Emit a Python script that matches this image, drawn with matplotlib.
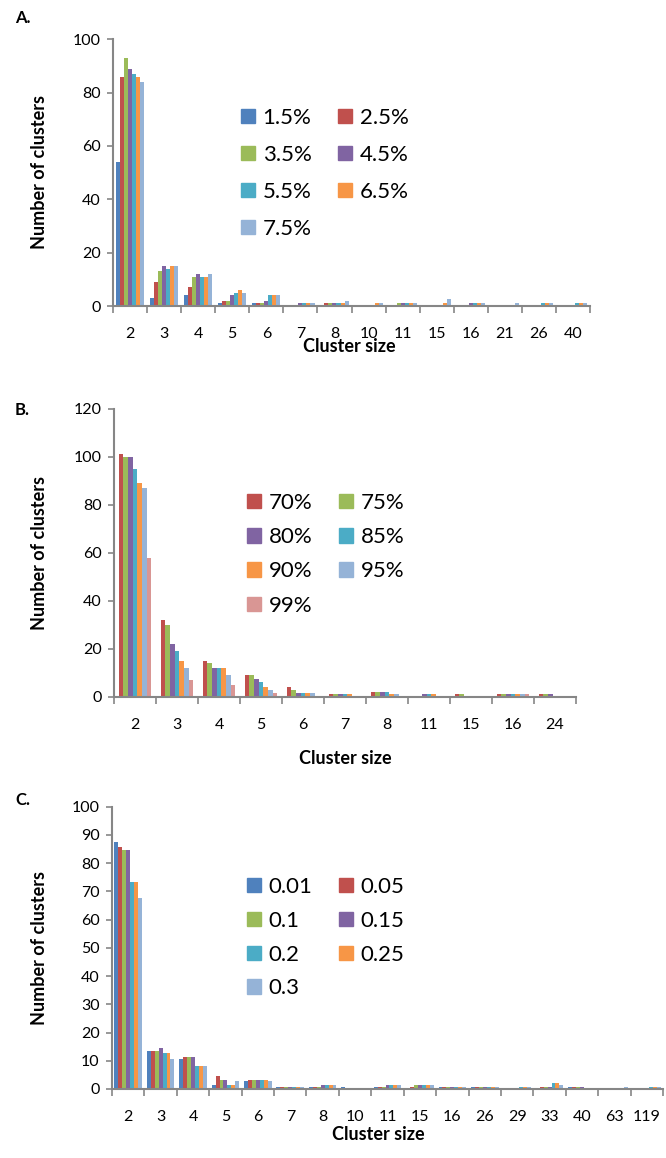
import numpy as np
import matplotlib
matplotlib.use('Agg')
import matplotlib.pyplot as plt
from matplotlib.patches import Patch

plt.rcParams['font.family'] = ['Lato', 'DejaVu Sans']

W, H = 666, 1158

# ── Colores (paleta Office) ───────────────────────────────────────────────
AZUL    = '#4F81BD'
ROJO    = '#C0504D'
VERDE   = '#9BBB59'
MORADO  = '#8064A2'
TURQ    = '#4BACC6'
NARANJA = '#F79646'
CELESTE = '#95B3D7'
ROSA    = '#D99694'
GRIS    = '#868686'

# ── Panel A: umbral en % ─────────────────────────────────────────────────
cats_a = ['2', '3', '4', '5', '6', '7', '8', '10', '11', '15', '16', '21', '26', '40']
series_a = ['1.5%', '2.5%', '3.5%', '4.5%', '5.5%', '6.5%', '7.5%']
colores_a = [AZUL, ROJO, VERDE, MORADO, TURQ, NARANJA, CELESTE]
# una fila por tamaño de cluster, una columna por serie
vals_a = [
    [54, 86, 93, 89, 87, 86, 84],
    [3, 9, 13, 15, 14, 15, 15],
    [4, 7, 11, 12, 11, 11, 12],
    [1, 2, 2, 4, 5, 6, 5],
    [1, 1, 1, 2, 4, 4, 4],
    [0, 0, 0, 1, 1, 1, 1],
    [0, 1, 1, 1, 1, 1, 2],
    [0, 0, 0, 0, 0, 1, 1],
    [0, 0, 1, 1, 1, 1, 1],
    [0, 0, 0, 0, 0, 1, 2.5],
    [0, 0, 0, 1, 1, 1, 1],
    [0, 0, 0, 0, 0, 0, 1],
    [0, 0, 0, 0, 1, 1, 1],
    [0, 0, 0, 0, 1, 1, 1],
]

# ── Panel B: identidad ───────────────────────────────────────────────────
cats_b = ['2', '3', '4', '5', '6', '7', '8', '11', '15', '16', '24']
series_b = ['70%', '75%', '80%', '85%', '90%', '95%', '99%']
colores_b = [ROJO, VERDE, MORADO, TURQ, NARANJA, CELESTE, ROSA]
vals_b = [
    [101, 100, 100, 95, 89, 87, 58],
    [32, 30, 22, 19, 15, 12, 7],
    [15, 14, 12, 12, 12, 9, 5],
    [9, 9, 7.5, 6, 4, 3, 1.5],
    [4, 3, 1.6, 1.6, 1.6, 1.6, 0],
    [1, 1, 1, 1, 1, 0, 0],
    [2, 2, 2, 2, 1, 1, 0],
    [0, 0, 1, 1, 1, 0, 0],
    [1, 1, 0, 0, 0, 0, 0],
    [1, 1, 1, 1, 1, 1, 1],
    [1, 1, 1, 0, 0, 0, 0],
]

# ── Panel C: parámetro ───────────────────────────────────────────────────
cats_c = ['2', '3', '4', '5', '6', '7', '8', '10', '11', '15', '16', '26',
          '29', '33', '40', '63', '119']
series_c = ['0.01', '0.05', '0.1', '0.15', '0.2', '0.25', '0.3']
colores_c = [AZUL, ROJO, VERDE, MORADO, TURQ, NARANJA, CELESTE]
vals_c = [
    [87.6, 85.9, 84.5, 84.5, 73.2, 73.2, 67.6],
    [13.4, 13.4, 13.4, 14.5, 12.6, 12.6, 10.7],
    [10.7, 11.3, 11.3, 11.3, 8.2, 8.2, 8.2],
    [1.3, 4.5, 3.3, 3.3, 1.3, 1.3, 2.7],
    [2.7, 3.3, 3.3, 3.3, 3.3, 3.3, 2.7],
    [0.8, 0.8, 0.8, 0.8, 0.8, 0.8, 0.8],
    [0.8, 0.8, 0.8, 1.5, 1.5, 1.5, 1.5],
    [0.8, 0, 0, 0, 0, 0, 0],
    [0.8, 0.8, 0.8, 1.5, 1.5, 1.5, 1.5],
    [0, 0.8, 1.5, 1.5, 1.5, 1.5, 1.5],
    [0.8, 0.8, 0.8, 0.8, 0.8, 0.8, 0.8],
    [0.8, 0.8, 0.8, 0.8, 0.8, 0.8, 0.8],
    [0, 0, 0, 0, 0.8, 0.8, 0.8],
    [0, 0.8, 0.8, 0.8, 2, 2, 1.5],
    [0.8, 0.8, 0.8, 0.8, 0, 0, 0],
    [0, 0, 0, 0, 0, 0, 0.8],
    [0, 0, 0, 0, 0.8, 0.8, 0.8],
]


def rect_px(l, t, r, b):
    return [l / W, 1 - b / H, (r - l) / W, (b - t) / H]


def panel(fig, caja, cats, series, colores, vals, ymax, ypaso, ancho_grupo,
          leyenda_xy, sep_filas):
    ax = fig.add_axes(rect_px(*caja))
    datos = np.array(vals, dtype=float).T
    n = len(cats)
    x = np.arange(n)
    w = ancho_grupo / len(series)
    for j, (nombre, c) in enumerate(zip(series, colores)):
        ax.bar(x + (j - (len(series) - 1) / 2) * w, datos[j], width=w,
               color=c, label=nombre, linewidth=0)

    ax.set_xlim(-0.5, n - 0.5)
    ax.set_ylim(0, ymax)
    ax.set_yticks(np.arange(0, ymax + 1, ypaso))
    ax.tick_params(axis='y', direction='out', length=4, width=1.2, color=GRIS,
                   labelsize=11.5, pad=5)
    # marcas en los límites de cada categoría, etiquetas en el centro
    ax.set_xticks(np.arange(-0.5, n, 1.0))
    ax.set_xticklabels([])
    ax.tick_params(axis='x', which='major', direction='out', length=5,
                   width=1.2, color=GRIS)
    ax.set_xticks(x, minor=True)
    ax.set_xticklabels(cats, minor=True)
    ax.tick_params(axis='x', which='minor', length=0, labelsize=11.5, pad=15)

    for lado in ('top', 'right'):
        ax.spines[lado].set_visible(False)
    for lado in ('left', 'bottom'):
        ax.spines[lado].set_color(GRIS)
        ax.spines[lado].set_linewidth(1.5)

    # leyenda en orden por filas (2 columnas)
    orden = list(range(0, len(series), 2)) + list(range(1, len(series), 2))
    handles = [Patch(color=colores[i]) for i in orden]
    etiquetas = [series[i] for i in orden]
    lx, ly = leyenda_xy
    ax.legend(handles, etiquetas, ncol=2, frameon=False, loc='upper left',
              bbox_to_anchor=(lx / W, 1 - ly / H), bbox_transform=fig.transFigure,
              fontsize=16, handlelength=0.62, handleheight=0.62,
              handletextpad=0.35, columnspacing=1.2, labelspacing=sep_filas,
              borderpad=0, borderaxespad=0)
    return ax


fig = plt.figure(figsize=(W / 100, H / 100), dpi=100)

panel(fig, (113, 39.3, 590, 306), cats_a, series_a, colores_a, vals_a,
      100, 20, 0.83, (241, 108), 0.76)
panel(fig, (114, 408.7, 576, 696.7), cats_b, series_b, colores_b, vals_b,
      120, 20, 0.77, (247, 493), 0.64)
panel(fig, (112, 806.7, 663, 1089), cats_c, series_c, colores_c, vals_c,
      100, 10, 0.85, (247, 877), 0.62)

# títulos de eje y letras de panel
for letra, ylet, ycen, xlab_x, xlab_y in [
        ('A.', 18, 172, 349, 347),
        ('B.', 410, 553, 345, 758),
        ('C.', 800, 948, 378, 1135)]:
    fig.text(15 / W, 1 - ylet / H, letra, fontsize=12, fontweight='bold',
             ha='left', va='center')
    fig.text(40 / W, 1 - ycen / H, 'Number of clusters', fontsize=13,
             fontweight='bold', rotation=90, ha='center', va='center')
    fig.text(xlab_x / W, 1 - xlab_y / H, 'Cluster size', fontsize=13,
             fontweight='bold', ha='center', va='center')

plt.savefig('out.png', dpi=100)
